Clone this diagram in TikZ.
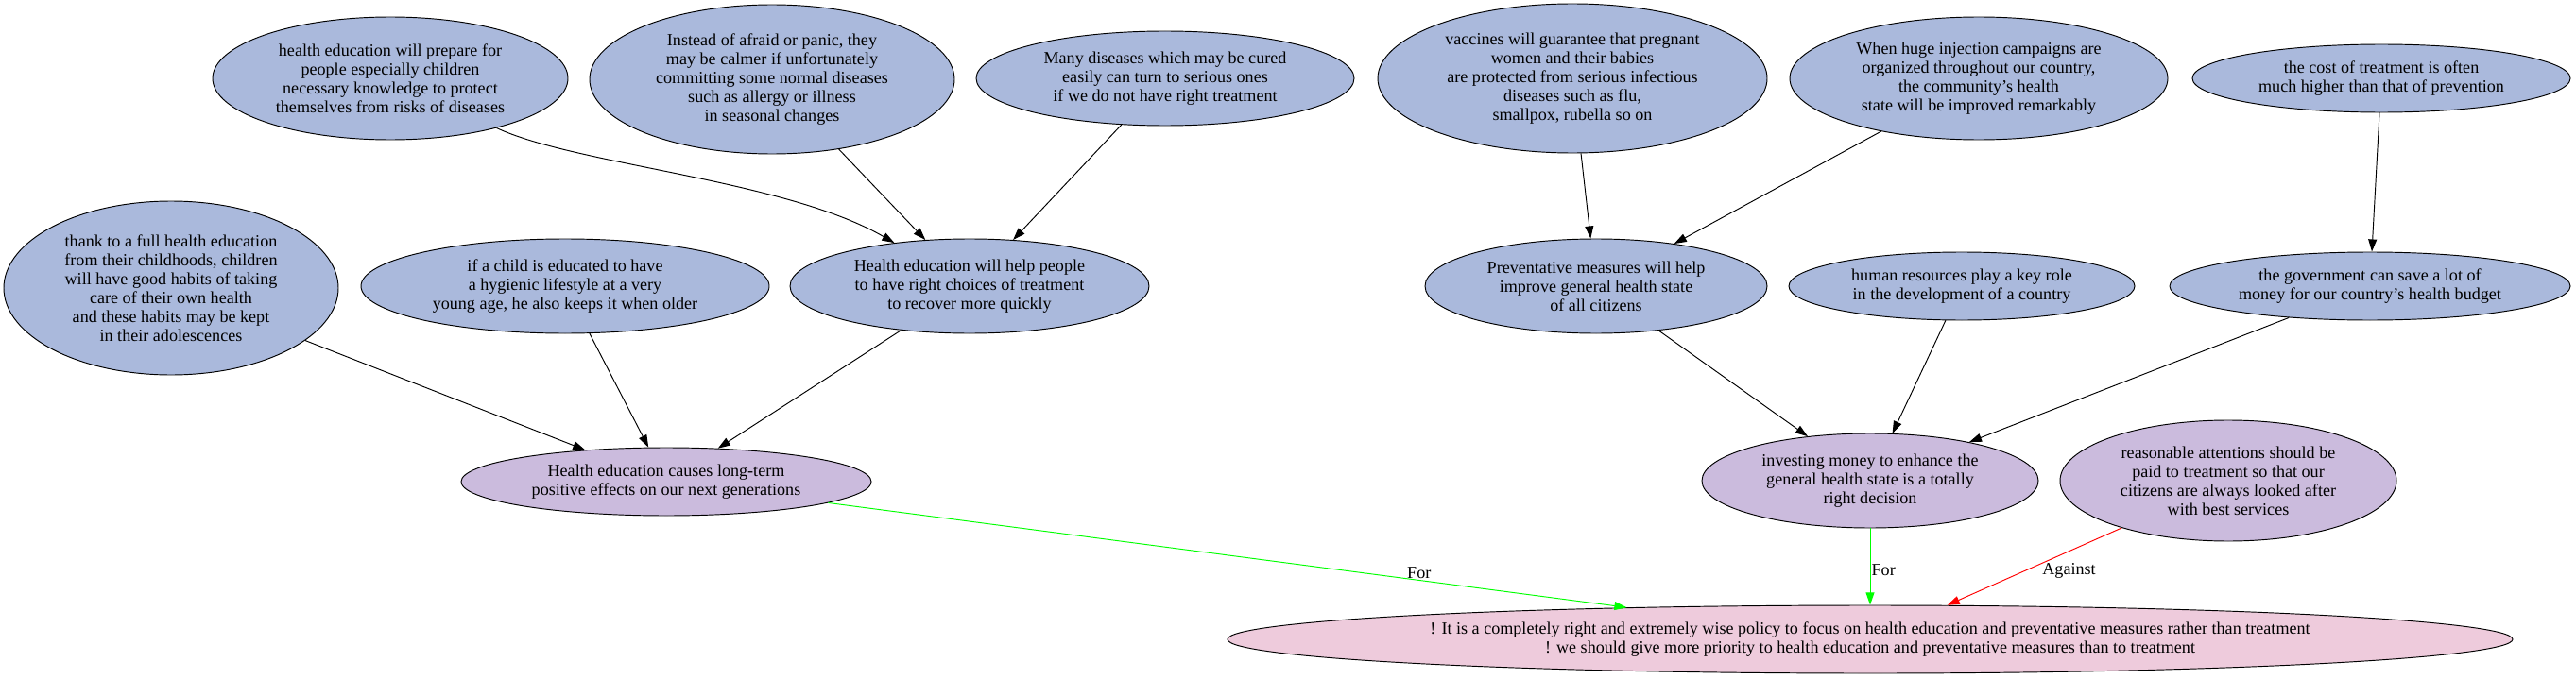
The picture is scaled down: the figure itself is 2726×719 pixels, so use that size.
\documentclass[tikz,border=0pt]{standalone}
\usepackage{fontspec}
\setmainfont{Liberation Serif}
\usepackage{tikz}
\usetikzlibrary{arrows.meta,shapes.geometric}
\definecolor{premise}{HTML}{AAB9DC}
\definecolor{claim}{HTML}{CBBBDD}
\definecolor{thesis}{HTML}{EECBDC}
\definecolor{proGreen}{HTML}{00FF00}
\definecolor{conRed}{HTML}{FF0000}
\newlength{\pxu}
\setlength{\pxu}{0.84pt}

\begin{document}
\begin{tikzpicture}[x=\pxu, y=-\pxu,
  bubble/.style={draw, ellipse, line width=0.8pt, inner sep=0pt, align=center,
    font=\fontsize{15.2}{16.8}\selectfont},
  ell/.style 2 args={minimum width=#1\pxu, minimum height=#2\pxu},
  arr/.style={-{Triangle[length=11pt, width=7.5pt]}, line width=0.8pt},
  lbl/.style={font=\fontsize{15.2}{16.8}\selectfont, inner sep=1pt}
]
  \useasboundingbox (0,0) rectangle (2726,719);

  % top row
  \node[bubble, fill=premise, ell={376}{130}] (prepare) at (413,83)
    {health education will prepare for\\people especially children\\necessary knowledge to protect\\themselves from risks of diseases};
  \node[bubble, fill=premise, ell={386}{158}] (calmer) at (817,84)
    {Instead of afraid or panic, they\\may be calmer if unfortunately\\committing some normal diseases\\such as allergy or illness\\in seasonal changes};
  \node[bubble, fill=premise, ell={400}{100}] (serious) at (1233,83)
    {Many diseases which may be cured\\easily can turn to serious ones\\if we do not have right treatment};
  \node[bubble, fill=premise, ell={412}{158}] (vaccines) at (1664,83)
    {vaccines will guarantee that pregnant\\women and their babies\\are protected from serious infectious\\diseases such as flu,\\smallpox, rubella so on};
  \node[bubble, fill=premise, ell={400}{130}] (campaign) at (2094,83)
    {When huge injection campaigns are\\organized throughout our country,\\the community's health\\state will be improved remarkably};
  \node[bubble, fill=premise, ell={400}{72}] (cost) at (2520,83)
    {the cost of treatment is often\\much higher than that of prevention};

  % middle row
  \node[bubble, fill=premise, ell={354}{184}] (habits) at (181,305)
    {thank to a full health education\\from their childhoods, children\\will have good habits of taking\\care of their own health\\and these habits may be kept\\in their adolescences};
  \node[bubble, fill=premise, ell={432}{100}] (hygiene) at (598,303)
    {if a child is educated to have\\a hygienic lifestyle at a very\\young age, he also keeps it when older};
  \node[bubble, fill=premise, ell={380}{100}] (choices) at (1026,303)
    {Health education will help people\\to have right choices of treatment\\to recover more quickly};
  \node[bubble, fill=premise, ell={362}{100}] (prevent) at (1689,303)
    {Preventative measures will help\\improve general health state\\of all citizens};
  \node[bubble, fill=premise, ell={366}{72}] (human) at (2076,303)
    {human resources play a key role\\in the development of a country};
  \node[bubble, fill=premise, ell={424}{72}] (budget) at (2508,303)
    {the government can save a lot of\\money for our country's health budget};

  % claims
  \node[bubble, fill=claim, ell={434}{72}] (longterm) at (705,510)
    {Health education causes long-term\\positive effects on our next generations};
  \node[bubble, fill=claim, ell={356}{100}] (invest) at (1979,509)
    {investing money to enhance the\\general health state is a totally\\right decision};
  \node[bubble, fill=claim, ell={356}{128}] (attention) at (2358,509)
    {reasonable attentions should be\\paid to treatment so that our\\citizens are always looked after\\with best services};

  % main thesis
  \node[bubble, fill=thesis, ell={1360}{72}] (policy) at (1979,677)
    {! It is a completely right and extremely wise policy to focus on health education and preventative measures rather than treatment\\! we should give more priority to health education and preventative measures than to treatment};

  \draw[arr] (prepare) .. controls (610,175) and (830,190) .. (choices);
  \draw[arr] (calmer) -- (choices);
  \draw[arr] (serious) -- (choices);
  \draw[arr] (vaccines) -- (prevent);
  \draw[arr] (campaign) -- (prevent);
  \draw[arr] (cost) -- (budget);

  \draw[arr] (habits) -- (longterm);
  \draw[arr] (hygiene) -- (longterm);
  \draw[arr] (choices) -- (longterm);
  \draw[arr] (prevent) -- (invest);
  \draw[arr] (human) -- (invest);
  \draw[arr] (budget) -- (invest);

  \draw[arr, proGreen] (longterm) -- node[lbl, pos=0.74, above, text=black] {For} (policy);
  \draw[arr, proGreen] (invest) -- node[lbl, pos=0.55, right, text=black] {For} (policy);
  \draw[arr, conRed] (attention) -- node[lbl, pos=0.55, right=16\pxu, text=black] {Against} (policy);
\end{tikzpicture}
\end{document}
